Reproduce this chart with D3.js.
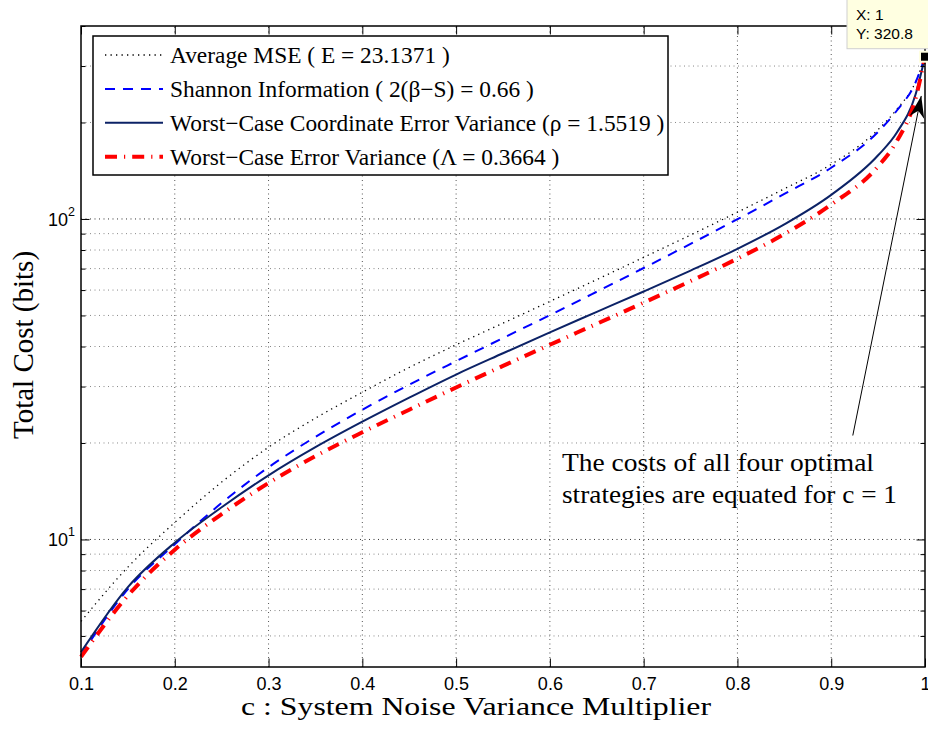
<!DOCTYPE html>
<html>
<head>
<meta charset="utf-8">
<script src="https://cdn.jsdelivr.net/npm/d3@7"></script>
<style>
  body { margin: 0; background: #fff; }
  text { fill: #000; }
</style>
</head>
<body>
<div id="chart"></div>
<script>
// noise variance multiplier c
const cValues = [0.1, 0.15, 0.2, 0.25, 0.3, 0.35, 0.4, 0.45, 0.5, 0.55, 0.6, 0.65, 0.7, 0.75, 0.8, 0.85, 0.9, 0.95, 0.97, 0.99, 1];

// total cost (bits) for each strategy
const avgMSE   = [5.55, 8.2, 11.3, 15.1, 19.4, 23.9, 28.8, 34.4, 40.5, 47.3, 55.3, 64.7, 75.9, 89.1, 105, 124.2, 148, 190, 220, 268, 320.8];
const shannon  = [4.35, 7.0, 9.66, 13.0, 16.8, 20.9, 25.4, 30.4, 36.0, 42.5, 50.1, 59.3, 70.3, 83.6, 99.8, 119.7, 144.5, 187, 218, 267, 320.8];
const coordVar = [4.45, 7.1, 9.77, 12.6, 15.85, 19.4, 23.3, 27.7, 32.7, 38.1, 44.3, 51.3, 59.4, 69.0, 80.7, 96.2, 118.9, 158, 186, 245, 320.8];
const errorVar = [4.3, 6.68, 9.29, 12.0, 15.0, 18.2, 21.6, 25.4, 29.8, 34.8, 40.5, 47.1, 54.8, 64.0, 75.2, 89.7, 110.9, 146, 175, 238, 320.8];

const seriesNames = [
    "Average MSE ( E = 23.1371 )",
    "Shannon Information ( 2(\u03b2\u2212S) = 0.66 )",
    "Worst\u2212Case Coordinate Error Variance (\u03c1 = 1.5519 )",
    "Worst\u2212Case Error Variance (\u039b = 0.3664 )"
];

const xTicks = [0.1, 0.2, 0.3, 0.4, 0.5, 0.6, 0.7, 0.8, 0.9, 1];
const yMajorTicks = [10, 100];
const yMinorTicks = [5, 6, 7, 8, 9, 20, 30, 40, 50, 60, 70, 80, 90, 200, 300, 400];

// annotation: data tip at c = 1, arrow and note
const tipPoint = { c: 1, v: 320.8 };
const arrowFrom = { c: 0.923, v: 21.1 };
const arrowTo = { c: 0.996, v: 242 };
const noteLines = ["The costs of all four optimal", "strategies are equated for c = 1"];

const width = 928, height = 729;
const margin = { top: 26, right: 3, bottom: 62, left: 81 };

const svg = d3.select("#chart").append("svg")
    .attr("width", width)
    .attr("height", height);

const x = d3.scaleLinear().domain([0.1, 1]).range([margin.left, width - margin.right]);
const y = d3.scaleLog().domain([4, 400]).range([height - margin.bottom, margin.top]);

const serif = "'Liberation Serif', 'Times New Roman', serif";
const sans = "'Liberation Sans', Arial, sans-serif";

// grid lines (dotted, MATLAB style)
const grid = svg.append("g");
grid.selectAll(".vgrid")
    .data(xTicks.slice(1, -1))
    .enter().append("line")
    .attr("x1", d => x(d)).attr("x2", d => x(d))
    .attr("y1", y(4)).attr("y2", y(400))
    .attr("stroke", "#555").attr("stroke-width", 1)
    .attr("stroke-dasharray", "1,3.5");
grid.selectAll(".hgrid")
    .data(yMinorTicks.concat(yMajorTicks).filter(d => d < 400))
    .enter().append("line")
    .attr("x1", x(0.1)).attr("x2", x(1))
    .attr("y1", d => y(d)).attr("y2", d => y(d))
    .attr("stroke", d => yMajorTicks.includes(d) ? "#333" : "#888")
    .attr("stroke-width", 1)
    .attr("stroke-dasharray", "1,3.5");

// curves
const styles = [
    { data: avgMSE, color: "#000", width: 1.3, dash: "1.3,4.2" },
    { data: shannon, color: "#0000ff", width: 2, dash: "10,8" },
    { data: coordVar, color: "#0c2266", width: 2, dash: null },
    { data: errorVar, color: "#ff0000", width: 4, dash: "12,7,1.2,7" }
];

const line = d3.line()
    .x(d => x(d[0]))
    .y(d => y(d[1]))
    .curve(d3.curveMonotoneX);

styles.forEach(s => {
    svg.append("path")
        .datum(cValues.map((c, i) => [c, s.data[i]]))
        .attr("d", line)
        .attr("fill", "none")
        .attr("stroke", s.color)
        .attr("stroke-width", s.width)
        .attr("stroke-dasharray", s.dash);
});

// axes with inward ticks on all four sides
const tickLen = 8.5;
svg.append("g")
    .attr("transform", `translate(0,${height - margin.bottom})`)
    .call(d3.axisBottom(x).tickValues(xTicks).tickSize(-tickLen).tickPadding(10)
        .tickFormat(d => d === 1 ? "1" : d3.format(".1f")(d)))
    .call(g => g.selectAll("text").attr("font-family", sans).attr("font-size", 18))
    .call(g => g.select(".domain").remove());
svg.append("g")
    .attr("transform", `translate(0,${margin.top})`)
    .call(d3.axisTop(x).tickValues(xTicks).tickSize(-tickLen).tickFormat(""))
    .call(g => g.select(".domain").remove());

svg.append("g")
    .attr("transform", `translate(${margin.left},0)`)
    .call(d3.axisLeft(y).tickValues(yMajorTicks).tickSize(-tickLen).tickFormat(""))
    .call(g => g.select(".domain").remove());
svg.append("g")
    .attr("transform", `translate(${margin.left},0)`)
    .call(d3.axisLeft(y).tickValues(yMinorTicks).tickSize(-4.5).tickFormat(""))
    .call(g => g.select(".domain").remove());
svg.append("g")
    .attr("transform", `translate(${width - margin.right},0)`)
    .call(d3.axisRight(y).tickValues(yMajorTicks).tickSize(-tickLen).tickFormat(""))
    .call(g => g.select(".domain").remove());
svg.append("g")
    .attr("transform", `translate(${width - margin.right},0)`)
    .call(d3.axisRight(y).tickValues(yMinorTicks).tickSize(-4.5).tickFormat(""))
    .call(g => g.select(".domain").remove());
svg.selectAll(".tick line").attr("stroke", "#000").attr("stroke-width", 1);

// y labels as powers of ten
yMajorTicks.forEach(v => {
    const t = svg.append("text")
        .attr("x", margin.left - 6)
        .attr("y", y(v) + 7)
        .attr("text-anchor", "end")
        .attr("font-family", sans)
        .attr("font-size", 18);
    t.append("tspan").text("10");
    t.append("tspan").attr("dy", -10).attr("font-size", 12.5).text(Math.round(Math.log10(v)));
});

// axes box
svg.append("rect")
    .attr("x", margin.left).attr("y", margin.top)
    .attr("width", width - margin.left - margin.right)
    .attr("height", height - margin.top - margin.bottom)
    .attr("fill", "none").attr("stroke", "#000").attr("stroke-width", 1.5);

// axis titles (the original's Times face runs wide, so stretch to its length)
svg.append("text")
    .attr("x", 241).attr("y", 715)
    .attr("font-family", serif).attr("font-size", 26)
    .attr("textLength", 470).attr("lengthAdjust", "spacingAndGlyphs")
    .text("c : System Noise Variance Multiplier");
svg.append("text")
    .attr("transform", "translate(33,345) rotate(-90)")
    .attr("text-anchor", "middle")
    .attr("font-family", serif).attr("font-size", 29)
    .text("Total Cost (bits)");

// legend
const legend = svg.append("g");
legend.append("rect")
    .attr("x", 93).attr("y", 36).attr("width", 575).attr("height", 139)
    .attr("fill", "#fff").attr("stroke", "#000").attr("stroke-width", 1.5);
styles.forEach((s, i) => {
    const ly = 55 + i * 33.9;
    legend.append("line")
        .attr("x1", 105).attr("x2", 163).attr("y1", ly).attr("y2", ly)
        .attr("stroke", s.color).attr("stroke-width", s.width)
        .attr("stroke-dasharray", s.dash);
    legend.append("text")
        .attr("x", 170).attr("y", ly + 8)
        .attr("font-family", serif).attr("font-size", 23.4)
        .text(seriesNames[i]);
});

// note and arrow
const noteWidths = [312, 335];
noteLines.forEach((t, i) => {
    svg.append("text")
        .attr("x", 562).attr("y", 471 + i * 32)
        .attr("font-family", serif).attr("font-size", 24.5)
        .attr("textLength", noteWidths[i]).attr("lengthAdjust", "spacingAndGlyphs")
        .text(t);
});

const ax0 = x(arrowFrom.c), ay0 = y(arrowFrom.v);
const ax1 = x(arrowTo.c), ay1 = y(arrowTo.v);
const ang = Math.atan2(ay1 - ay0, ax1 - ax0);
svg.append("line")
    .attr("x1", ax0).attr("y1", ay0).attr("x2", ax1).attr("y2", ay1)
    .attr("stroke", "#000").attr("stroke-width", 1);
const headLen = 22, headHalf = 7.5, notch = 15;
const ux = Math.cos(ang), uy = Math.sin(ang);
const head = [
    [ax1, ay1],
    [ax1 - headLen * ux - headHalf * uy, ay1 - headLen * uy + headHalf * ux],
    [ax1 - notch * ux, ay1 - notch * uy],
    [ax1 - headLen * ux + headHalf * uy, ay1 - headLen * uy - headHalf * ux]
];
svg.append("polygon")
    .attr("points", head.map(p => p.join(",")).join(" "))
    .attr("fill", "#000");

// data tip
const px = x(tipPoint.c), py = y(tipPoint.v);
svg.append("rect")
    .attr("x", px - 78).attr("y", py - 58).attr("width", 90).attr("height", 50)
    .attr("fill", "#ffffe1").attr("stroke", "#cfcfcf");
svg.append("text")
    .attr("x", px - 69).attr("y", py - 37)
    .attr("font-family", sans).attr("font-size", 15.5)
    .text("X: " + tipPoint.c);
svg.append("text")
    .attr("x", px - 69).attr("y", py - 18)
    .attr("font-family", sans).attr("font-size", 15.5)
    .text("Y: " + tipPoint.v);
svg.append("rect")
    .attr("x", px - 5).attr("y", py - 5).attr("width", 10).attr("height", 10)
    .attr("fill", "#000").attr("stroke", "#ffffe1").attr("stroke-width", 2);
</script>
</body>
</html>
